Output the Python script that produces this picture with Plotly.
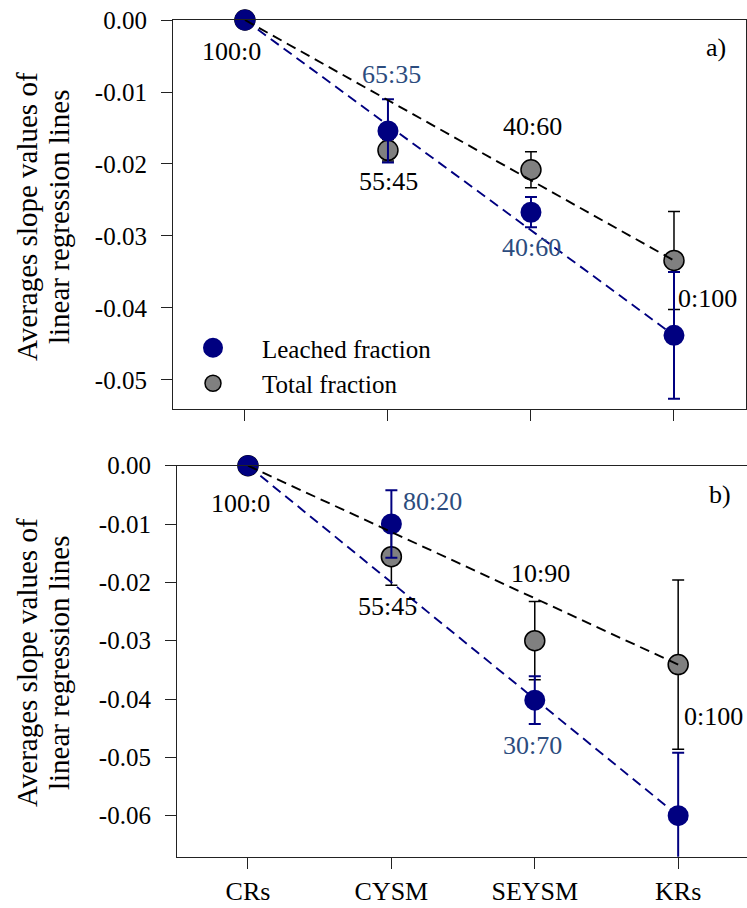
import plotly.graph_objects as go

# ---------------- data ----------------
categories = ["CRs", "CYSM", "SEYSM", "KRs"]

a_leached = [0.0, -0.0154, -0.0267, -0.0438]
a_leached_err = [0.0, 0.0044, 0.0021, 0.0088]
a_total = [0.0, -0.0181, -0.0208, -0.0334]
a_total_err = [0.0, 0.0015, 0.0025, 0.0068]

b_leached = [0.0, -0.0100, -0.0402, -0.0600]
b_leached_err = [0.0, 0.0058, 0.0041, 0.0108]
b_total = [0.0, -0.0156, -0.0300, -0.0341]
b_total_err = [0.0, 0.0049, 0.0067, 0.0145]

a_leached_labels = ["", "65:35", "40:60", ""]
a_total_labels = ["100:0", "55:45", "40:60", "0:100"]
b_leached_labels = ["", "80:20", "30:70", ""]
b_total_labels = ["100:0", "55:45", "10:90", "0:100"]

a_yticks = [0.0, -0.01, -0.02, -0.03, -0.04, -0.05]
a_yticktext = ["0.00", "-0.01", "-0.02", "-0.03", "-0.04", "-0.05"]
b_yticks = [0.0, -0.01, -0.02, -0.03, -0.04, -0.05, -0.06]
b_yticktext = ["0.00", "-0.01", "-0.02", "-0.03", "-0.04", "-0.05", "-0.06"]

ytitle_lines = ["Averages slope values of", "linear regression lines"]
series_names = ["Leached fraction", "Total fraction"]

# ---------------- styles ----------------
W, H = 747, 908
FONT = "'Liberation Serif', 'Times New Roman', 'DejaVu Serif', serif"
NAVY = "#000080"
GRAY = "#808080"
LABEL_BLUE = "#2c4c7e"

# label offsets in px (xshift, yshift) per point
a_leached_off = [None, (4, 56), (1, -35), None]
a_total_off = [(-13, -32), (1, -31), (2, 43), (34, -38)]
b_leached_off = [None, (41, 23), (-2, -45), None]
b_total_off = [(-7, -38), (-4, -50), (6, 67), (35, -52)]

fig = go.Figure()
x_idx = list(range(len(categories)))


def add_panel(xa, ya, leached, leached_err, total, total_err, showlegend):
    # total fraction (gray) first so blue sits on top
    fig.add_trace(go.Scatter(
        x=x_idx, y=total, mode="markers", name=series_names[1],
        marker=dict(size=20, color=GRAY, line=dict(color="black", width=1.5)),
        error_y=dict(type="data", array=total_err, color="black", thickness=1.5, width=6),
        xaxis=xa, yaxis=ya, showlegend=showlegend, legendrank=2, cliponaxis=False))
    fig.add_trace(go.Scatter(
        x=x_idx, y=leached, mode="markers", name=series_names[0],
        marker=dict(size=17, color=NAVY, line=dict(color=NAVY, width=4)),
        error_y=dict(type="data", array=leached_err, color=NAVY, thickness=2, width=6),
        xaxis=xa, yaxis=ya, showlegend=showlegend, legendrank=1, cliponaxis=False))
    # dashed trend lines (first to last point)
    fig.add_trace(go.Scatter(
        x=[x_idx[0], x_idx[-1]], y=[leached[0], leached[-1]], mode="lines",
        line=dict(color=NAVY, width=1.9, dash="10px,6px"),
        xaxis=xa, yaxis=ya, showlegend=False, hoverinfo="skip"))
    fig.add_trace(go.Scatter(
        x=[x_idx[0], x_idx[-1]], y=[total[0], total[-1]], mode="lines",
        line=dict(color="black", width=1.9, dash="10px,6px"),
        xaxis=xa, yaxis=ya, showlegend=False, hoverinfo="skip"))


add_panel("x", "y", a_leached, a_leached_err, a_total, a_total_err, True)
add_panel("x2", "y2", b_leached, b_leached_err, b_total, b_total_err, False)

annotations = []


def add_labels(xref, yref, values, labels, offs, color):
    for i, (v, t, o) in enumerate(zip(values, labels, offs)):
        if not t:
            continue
        annotations.append(dict(
            x=x_idx[i], y=v, xref=xref, yref=yref, text=t, showarrow=False,
            xshift=o[0], yshift=o[1], xanchor="center", yanchor="middle",
            font=dict(family=FONT, size=26, color=color)))


add_labels("x", "y", a_leached, a_leached_labels, a_leached_off, LABEL_BLUE)
add_labels("x", "y", a_total, a_total_labels, a_total_off, "black")
add_labels("x2", "y2", b_leached, b_leached_labels, b_leached_off, LABEL_BLUE)
add_labels("x2", "y2", b_total, b_total_labels, b_total_off, "black")

annotations.append(dict(x=716 / W, y=1 - 47 / H, xref="paper", yref="paper", text="a)",
                        showarrow=False, xanchor="center", yanchor="middle",
                        font=dict(family=FONT, size=26, color="black")))
annotations.append(dict(x=720 / W, y=1 - 495 / H, xref="paper", yref="paper", text="b)",
                        showarrow=False, xanchor="center", yanchor="middle",
                        font=dict(family=FONT, size=26, color="black")))
for cy in (217, 663):
    for lx, line in zip((27, 59), ytitle_lines):
        annotations.append(dict(x=lx / W, y=1 - cy / H, xref="paper", yref="paper",
                                text=line, showarrow=False, textangle=-90,
                                xanchor="center", yanchor="middle",
                                font=dict(family=FONT, size=29, color="black")))

axis_common = dict(showline=True, linecolor="#222", linewidth=1.2, mirror=True,
                   ticks="outside", ticklen=11, tickcolor="#222", tickwidth=1.2,
                   showgrid=False, zeroline=False, automargin=False,
                   tickfont=dict(family=FONT, size=25, color="black"))

fig.update_layout(
    width=W, height=H,
    margin=dict(l=0, r=0, t=0, b=0, autoexpand=False),
    paper_bgcolor="white", plot_bgcolor="white",
    font=dict(family=FONT, color="black"),
    xaxis=dict(domain=[173 / W, 745.5 / W], range=[-0.503, 3.5], anchor="y",
               tickvals=x_idx, showticklabels=False, **axis_common),
    yaxis=dict(domain=[1 - 409 / H, 1 - 20 / H], range=[-0.05403, 0], anchor="x",
               tickvals=a_yticks, ticktext=a_yticktext, ticklabelstandoff=9,
               **axis_common),
    xaxis2=dict(domain=[177 / W, 1.0], range=[-0.495, 3.48], anchor="y2",
                tickvals=x_idx, ticktext=categories,
                **{k: v for k, v in axis_common.items() if k != "tickfont"},
                tickfont=dict(family=FONT, size=26, color="black")),
    yaxis2=dict(domain=[1 - 856.7 / H, 1 - 465.7 / H], range=[-0.06703, 0], anchor="x2",
                tickvals=b_yticks, ticktext=b_yticktext, ticklabelstandoff=9,
                **axis_common),
    legend=dict(x=164 / W, y=1 - 325 / H, xanchor="left", yanchor="top",
                bgcolor="rgba(0,0,0,0)", borderwidth=0, itemwidth=88,
                font=dict(family=FONT, size=25, color="black"),
                traceorder="normal"),
    annotations=annotations,
    showlegend=True,
)

fig.write_html("out.html")
